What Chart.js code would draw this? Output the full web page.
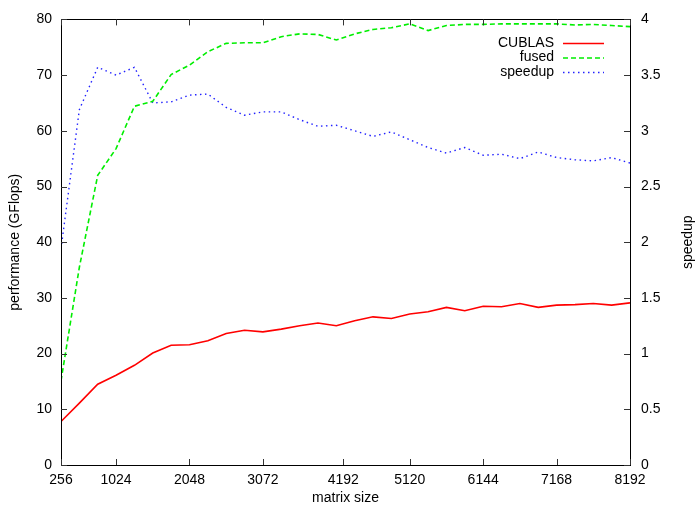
<!DOCTYPE html>
<html>
<head>
<meta charset="utf-8">
<title>performance vs matrix size</title>
<script src="https://cdn.jsdelivr.net/npm/chart.js@4/dist/chart.umd.min.js"></script>
<style>
  html, body { margin: 0; padding: 0; background: #fff; }
  canvas { display: block; }
</style>
</head>
<body>
<canvas id="c" width="698" height="507"></canvas>
<script>
// matrix sizes (N x N)
const matrixSizes = [256, 512, 768, 1024, 1280, 1536, 1792, 2048, 2304, 2560, 2816, 3072,
  3328, 3584, 3840, 4096, 4352, 4608, 4864, 5120, 5376, 5632, 5888, 6144,
  6400, 6656, 6912, 7168, 7424, 7680, 7936, 8192];

// GFlops of the CUBLAS baseline
const cublasGflops = [7.8, 11.1, 14.5, 16.1, 17.9, 20.1, 21.5, 21.6, 22.3, 23.6, 24.2, 23.9,
  24.4, 25.0, 25.5, 25.0, 25.9, 26.6, 26.3, 27.1, 27.5, 28.3, 27.7, 28.5,
  28.4, 29.0, 28.3, 28.7, 28.8, 29.0, 28.7, 29.1];

// GFlops of the fused kernel
const fusedGflops = [15.1, 35.5, 52.0, 56.8, 64.4, 65.3, 70.1, 71.8, 74.2, 75.7, 75.8, 75.8,
  76.9, 77.4, 77.3, 76.3, 77.4, 78.2, 78.5, 79.2, 78.0, 78.9, 79.1, 79.1,
  79.2, 79.2, 79.2, 79.2, 79.0, 79.1, 78.9, 78.7];

// fused / CUBLAS
const speedup = [1.94, 3.19, 3.57, 3.50, 3.57, 3.25, 3.26, 3.32, 3.33, 3.21, 3.14, 3.17,
  3.17, 3.10, 3.04, 3.05, 3.00, 2.95, 2.99, 2.92, 2.85, 2.80, 2.85, 2.78,
  2.79, 2.75, 2.81, 2.76, 2.74, 2.73, 2.76, 2.71];

// x axis tick positions / labels
const xTickValues = [256, 1024, 2048, 3072, 4192, 5120, 6144, 7168, 8192];
const xTickLabels = ['256', '1024', '2048', '3072', '4192', '5120', '6144', '7168', '8192'];

const FONT = "'Liberation Sans', Arial, Helvetica, sans-serif";
const FONT_SIZE = 14;

function toPoints(values) {
  return matrixSizes.map((n, i) => ({ x: n, y: values[i] }));
}

// frame, inward tick marks, axis titles and a gnuplot-style key
const framePlugin = {
  id: 'gnuplotFrame',
  afterDatasetsDraw(chart) {
    const ctx = chart.ctx;
    const a = chart.chartArea;
    const sx = chart.scales.x, sy = chart.scales.y, sy2 = chart.scales.y2;
    const tl = 6;
    ctx.save();
    ctx.strokeStyle = '#000';
    ctx.lineWidth = 1;
    ctx.setLineDash([]);
    // border
    ctx.strokeRect(Math.round(a.left) + 0.5, Math.round(a.top) + 0.5,
      Math.round(a.right - a.left), Math.round(a.bottom - a.top));
    ctx.strokeStyle = '#333';
    ctx.beginPath();
    sx.ticks.forEach(t => {
      const px = Math.round(sx.getPixelForValue(t.value)) + 0.5;
      ctx.moveTo(px, a.bottom); ctx.lineTo(px, a.bottom - tl);
      ctx.moveTo(px, a.top); ctx.lineTo(px, a.top + tl);
    });
    sy.ticks.forEach(t => {
      const py = Math.round(sy.getPixelForValue(t.value)) + 0.5;
      ctx.moveTo(a.left, py); ctx.lineTo(a.left + tl, py);
    });
    sy2.ticks.forEach(t => {
      const py = Math.round(sy2.getPixelForValue(t.value)) + 0.5;
      ctx.moveTo(a.right, py); ctx.lineTo(a.right - tl, py);
    });
    ctx.stroke();

    // axis titles
    ctx.fillStyle = '#000';
    ctx.font = FONT_SIZE + 'px ' + FONT;
    ctx.textAlign = 'center';
    ctx.textBaseline = 'middle';
    const midY = (a.top + a.bottom) / 2;
    ctx.fillText('matrix size', (a.left + a.right) / 2, 498);
    ctx.save();
    ctx.translate(15, midY);
    ctx.rotate(-Math.PI / 2);
    ctx.fillText('performance (GFlops)', 0, 0);
    ctx.restore();
    ctx.save();
    ctx.translate(688, midY);
    ctx.rotate(-Math.PI / 2);
    ctx.fillText('speedup', 0, 0);
    ctx.restore();

    // key: label on the left, line sample on the right
    const rowsY = [43, 57.5, 72];
    chart.data.datasets.forEach((ds, i) => {
      const y = rowsY[i];
      ctx.textAlign = 'right';
      ctx.fillStyle = '#000';
      ctx.fillText(ds.label, 554, y);
      ctx.beginPath();
      ctx.strokeStyle = ds.borderColor;
      ctx.lineWidth = ds.borderWidth;
      ctx.setLineDash(ds.borderDash || []);
      ctx.moveTo(563, y + 0.5);
      ctx.lineTo(604, y + 0.5);
      ctx.stroke();
    });
    ctx.restore();
  }
};

const chart = new Chart(document.getElementById('c'), {
  type: 'line',
  data: {
    datasets: [
      {
        label: 'CUBLAS',
        data: toPoints(cublasGflops),
        borderColor: '#ff0000',
        borderWidth: 1.6,
        borderDash: [],
        yAxisID: 'y'
      },
      {
        label: 'fused',
        data: toPoints(fusedGflops),
        borderColor: '#00ee00',
        borderWidth: 1.6,
        borderDash: [5, 3],
        yAxisID: 'y'
      },
      {
        label: 'speedup',
        data: toPoints(speedup),
        borderColor: '#2222ff',
        borderWidth: 1.4,
        borderDash: [1.5, 3.5],
        yAxisID: 'y2'
      }
    ]
  },
  options: {
    responsive: false,
    animation: false,
    devicePixelRatio: 1,
    layout: { padding: { top: 14, left: 0, right: 0, bottom: 0 } },
    elements: {
      point: { radius: 0, hoverRadius: 0 },
      line: { tension: 0, fill: false }
    },
    plugins: {
      legend: { display: false },
      tooltip: { enabled: false }
    },
    scales: {
      x: {
        type: 'linear',
        min: 256,
        max: 8192,
        afterBuildTicks(scale) {
          scale.ticks = xTickValues.map(v => ({ value: v }));
        },
        afterFit(scale) { scale.height = 42; },
        grid: { display: false, drawTicks: false },
        border: { display: false },
        ticks: {
          autoSkip: false,
          maxRotation: 0,
          padding: 7,
          color: '#000',
          font: { family: FONT, size: FONT_SIZE },
          callback(value) {
            const i = xTickValues.indexOf(value);
            return i >= 0 ? xTickLabels[i] : '';
          }
        }
      },
      y: {
        position: 'left',
        min: 0,
        max: 80,
        afterFit(scale) { scale.width = 61; },
        grid: { display: false, drawTicks: false },
        border: { display: false },
        ticks: {
          stepSize: 10,
          padding: 9,
          color: '#000',
          font: { family: FONT, size: FONT_SIZE }
        }
      },
      y2: {
        position: 'right',
        min: 0,
        max: 4,
        afterFit(scale) { scale.width = 68; },
        grid: { display: false, drawTicks: false },
        border: { display: false },
        ticks: {
          stepSize: 0.5,
          padding: 11,
          color: '#000',
          font: { family: FONT, size: FONT_SIZE },
          callback(value) { return String(value); }
        }
      }
    }
  },
  plugins: [framePlugin]
});
</script>
</body>
</html>
